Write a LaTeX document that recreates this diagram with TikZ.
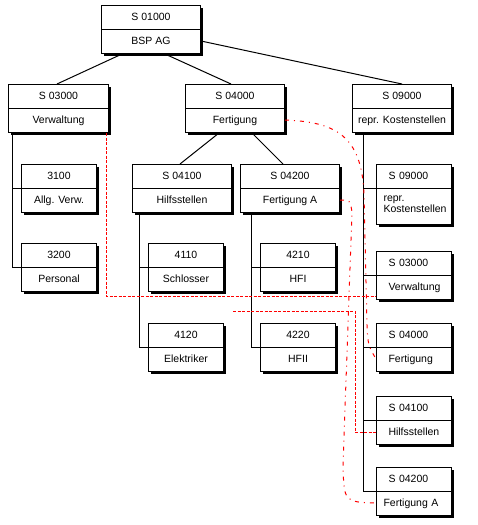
\documentclass[tikz,border=0pt]{standalone}
\usepackage{fontspec}
\setmainfont{Liberation Sans}
\usetikzlibrary{calc, shadows}
\definecolor{linkred}{HTML}{FF0000}
\tikzset{
  every picture/.style={line width=1pt},
  kbox/.style={draw, fill=white, inner sep=0pt, drop shadow={shadow xshift=2.5pt, shadow yshift=-2.5pt, fill=black, opacity=1}},
  ktext/.style={font=\fontsize{10.5}{11.5}\selectfont, inner sep=0pt, text height=7.5pt, text depth=0pt, align=center},
  rtext/.style={text width=51pt, align=left},
  link/.style={draw=linkred, line width=1pt, dash pattern=on 3pt off 1.5pt},
  linkdd/.style={draw=linkred, line width=1pt, dash pattern=on 4pt off 5pt on 1pt off 5pt},
}
% box with two fields: [text opts] name, x, y, width, lower height, lower opts, upper, lower
\newcommand{\kstbox}[9][]{%
  \node[kbox, minimum width=#5, minimum height=24+#6, anchor=north west] (#2) at (#3,#4) {};
  \coordinate (#2-d) at ($(#2.north west)+(0,24)$);
  \draw (#2-d) -- (#2-d -| #2.east);
  \node[ktext, #1] (#2-t) at ($(#2.north)+(0,12)$) {#8};
  \node[ktext, #1, #7] (#2-b) at ($(#2.north)+(0,24+#6/2)$) {#9};
}

\begin{document}
\begin{tikzpicture}[x=1pt, y=-1pt]
  \useasboundingbox[fill=white] (0,0) rectangle (477,525);

  % upper levels
  \kstbox{s01000}{101}{5}{99}{24}{}{S 01000}{BSP AG}
  \kstbox{s03000}{8}{84}{100}{24}{}{S 03000}{Verwaltung}
  \kstbox{s04000}{185}{84}{99}{24}{}{S 04000}{Fertigung}
  \kstbox{s09000}{352}{84}{99}{24}{}{S 09000}{repr. Kostenstellen}
  \kstbox{s04100}{132}{164}{99}{24}{}{S 04100}{Hilfsstellen}
  \kstbox{s04200}{240}{164}{99}{24}{}{S 04200}{Fertigung A}

  % cost centres
  \kstbox{k3100}{21}{164}{75}{24}{}{3100}{Allg. Verw.}
  \kstbox{k3200}{21}{243}{75}{24}{}{3200}{Personal}
  \kstbox{k4110}{148}{243}{75}{24}{}{4110}{Schlosser}
  \kstbox{k4120}{148}{323}{75}{24}{}{4120}{Elektriker}
  \kstbox{k4210}{260}{243}{75}{24}{}{4210}{HFI}
  \kstbox{k4220}{260}{323}{75}{24}{}{4220}{HFII}

  % representative column
  \kstbox[rtext]{r09000}{376}{164}{75}{36}{text width=63pt, xshift=1pt, text depth=11.5pt, yshift=3pt}{S 09000}{repr.\\Kostenstellen}
  \kstbox[rtext]{r03000}{376}{251}{75}{24}{}{S 03000}{Verwaltung}
  \kstbox[rtext]{r04000}{376}{323}{75}{24}{}{S 04000}{Fertigung}
  \kstbox[rtext]{r04100}{376}{396}{75}{24}{}{S 04100}{Hilfsstellen}
  \kstbox[rtext]{r04200}{376}{467}{75}{24}{text width=63pt, xshift=1pt}{S 04200}{Fertigung A}

  % hierarchy
  \draw ($(s01000.south west)+(21,0)$) -- ($(s03000.north west)+(49,0)$);
  \draw ($(s01000.south west)+(64,0)$) -- ($(s04000.north west)+(46,0)$);
  \draw (s01000-b -| s01000.east) -- (s09000.north);
  \draw ($(s04000.south west)+(34,0)$) -- ($(s04100.north west)+(48,0)$);
  \draw ($(s04000.south west)+(67,0)$) -- ($(s04200.north west)+(43,0)$);

  \coordinate (t1) at ($(s03000.south west)+(4,0)$);
  \coordinate (t2) at ($(s04100.south west)+(7,0)$);
  \coordinate (t3) at ($(s04200.south west)+(11,0)$);
  \coordinate (t4) at ($(s09000.south west)+(11,0)$);
  \draw (t1) |- (k3200-d) (t1 |- k3100-d) -- (k3100-d);
  \draw (t2) |- (k4120-d) (t2 |- k4110-d) -- (k4110-d);
  \draw (t3) |- (k4220-d) (t3 |- k4210-d) -- (k4210-d);
  \draw (t4) |- (r04200-d) (t4 |- r09000-d) -- (r09000-d)
    (t4 |- r03000-d) -- (r03000-d) (t4 |- r04000-d) -- (r04000-d)
    (t4 |- r04100-d) -- (r04100-d);

  % red links
  \draw[link] ($(s03000.south east)+(-3,0)$) |- ($(r03000.south west)+(0,-4)$);
  \draw[linkdd] (s04000-b -| s04000.east) .. controls (335,122) and (362,135) .. (364,195)
    -- (367,325) .. controls (368,345) .. (r04000-b -| r04000.west);
  \draw[linkdd] (s04200-b -| s04200.east) .. controls (350,200) .. (352,212)
    -- (343,465) .. controls (344,502) .. (r04200-b -| r04200.west);
  \coordinate (hstart) at (233,311);
  \draw[link] (hstart) -| ($(r04100-b -| r04100.west)+(-21,0)$) -- (r04100-b -| r04100.west);
\end{tikzpicture}
\end{document}
